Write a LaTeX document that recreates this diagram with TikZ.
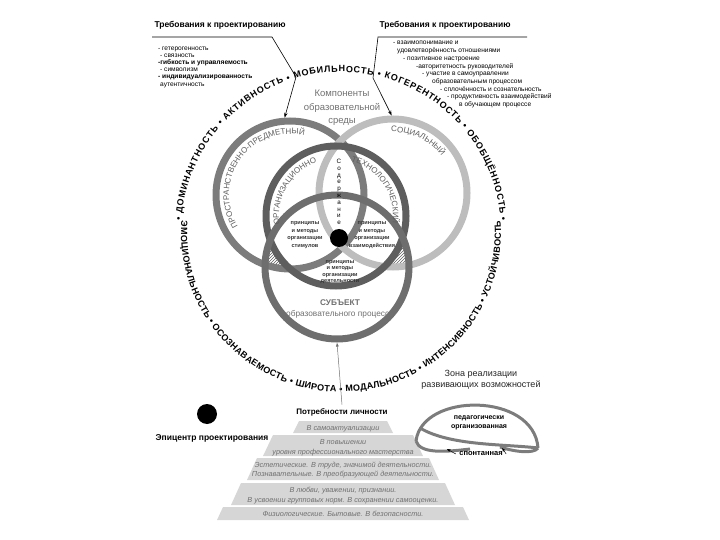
\documentclass[tikz,border=0pt]{standalone}
\usepackage{fontspec}
\setmainfont{Liberation Sans}
\usetikzlibrary{arrows.meta,positioning,decorations.text,patterns}

\definecolor{ringdark}{HTML}{5E5E5E}
\definecolor{ringmid}{HTML}{7C7C7C}
\definecolor{ringlight}{HTML}{BDBDBD}
\definecolor{txtgray}{HTML}{707070}
\definecolor{bandgray}{HTML}{D6D6D6}

\begin{document}
\begin{tikzpicture}[
  x=1pt, y=-1pt,
  ring/.style={circle, draw, line width=7pt, inner sep=0pt, outer sep=3.5pt},
  title/.style={font=\bfseries\fontsize{8.5}{10}\selectfont},
  small/.style={font=\fontsize{6.6}{7.5}\selectfont, inner sep=0pt, anchor=west},
  inner/.style={font=\bfseries\fontsize{5.6}{7.4}\selectfont, align=center, text=black!80, inner sep=0pt},
  need/.style={font=\itshape\fontsize{7.3}{10}\selectfont, text=txtgray, inner sep=0pt, anchor=base},
  pointer/.style={-{Stealth[length=5pt,width=3.5pt]}, line width=0.6pt},
  dome/.style={draw=ringmid, line width=3pt},
  fittext/.style={decorate, decoration={text along path, text align=fit to path, text={#1}}},
  ringtext/.style={decorate, decoration={text along path, text align=center, text color=ringdark,
    text={|\fontsize{8}{9}\selectfont|#1}}},
]
\useasboundingbox (0,0) rectangle (720,540);

% requirements
\node[title] (reqL) at (220,25) {Требования к проектированию};
\node[title] (reqR) at (445,25) {Требования к проектированию};
\foreach \x/\y/\t [count=\j] in {158/49/{- гетерогенность}, 160/56/{- связность},
    158/63/{\textbf{-гибкость и управляемость}}, 160/70/{- символизм},
    158/77/{\textbf{- индивидуализированность}}, 160/85/{аутентичность}}
  \node[small] (reqL\j) at (\x,\y) {\t};
\foreach \x/\y/\t [count=\j] in {393/43/{- взаимопонимание и}, 397/51/{удовлетворённость отношениями},
    403/59/{- позитивное настроение}, 416/67/{-авторитетность руководителей},
    422/74/{- участие в самоуправлении}, 432/82/{образовательным процессом},
    440/89/{- сплочённость и сознательность}, 447/97/{- продуктивность взаимодействий},
    459/105/{в обучающем процессе}}
  \node[small] (reqR\j) at (\x,\y) {\t};

% properties around
\path[fittext={|\bfseries\fontsize{9}{11}\selectfont|• ДОМИНАНТНОСТЬ • АКТИВНОСТЬ • МОБИЛЬНОСТЬ • КОГЕРЕНТНОСТЬ • ОБОБЩЁННОСТЬ •}]
  (341,232) ++(-176:160) arc[start angle=-176, end angle=-4, radius=160];
\path[fittext={|\bfseries\fontsize{9}{11}\selectfont|ЭМОЦИОНАЛЬНОСТЬ • ОСОЗНАВАЕМОСТЬ • ШИРОТА • МОДАЛЬНОСТЬ • ИНТЕНСИВНОСТЬ • УСТОЙЧИВОСТЬ}]
  (341,232) ++(-176:160) arc[start angle=-176, end angle=-364, radius=160];

% hatched corners
\begin{scope}
  \clip (290,195) circle[radius=75];
  \clip (337,267) circle[radius=73];
  \fill[pattern=north east lines, pattern color=ringdark, even odd rule]
    (200,150) rectangle (480,360) (336,216) circle[radius=69];
\end{scope}
\begin{scope}
  \clip (393,193) circle[radius=75];
  \clip (337,267) circle[radius=73];
  \fill[pattern=north east lines, pattern color=ringdark, even odd rule]
    (200,150) rectangle (480,360) (336,216) circle[radius=69];
\end{scope}

% components
\node[ring, draw=ringmid, minimum size=148] (spatial) at (290,195) {};
\node[ring, draw=ringlight, minimum size=148] (social) at (393,193) {};
\node[ring, draw=ringdark, minimum size=140] (orgtech) at (336,216) {};
\node[ring, draw=ringdark!90!white, minimum size=144] (subject) at (337,267) {};

\path[ringtext=ПРОСТРАНСТВЕННО-ПРЕДМЕТНЫЙ]
  (290,195) ++(-232:61) arc[start angle=-232, end angle=-56, radius=61];
\path[ringtext=СОЦИАЛЬНЫЙ]
  (393,193) ++(-105:61) arc[start angle=-105, end angle=-24, radius=61];
\path[ringtext=ОРГАНИЗАЦИОННО]
  (336,216) ++(-205:57) arc[start angle=-205, end angle=-93, radius=57];
\path[ringtext=ТЕХНОЛОГИЧЕСКИЙ]
  (336,216) ++(-88:57) arc[start angle=-88, end angle=21, radius=57];

\node[font=\fontsize{9.5}{13.5}\selectfont, text=txtgray, align=center] (comp) at (342,108)
  {Компоненты\\образовательной\\среды};
\node[font=\fontsize{6.3}{6.8}\selectfont, align=center, inner sep=0pt] (content) at (339,192)
  {С\\о\\д\\е\\р\\ж\\а\\н\\и\\е};
\node[circle, fill=black, minimum size=18, inner sep=0pt] (core) at (339,238) {};
\node[inner] (stim) at (305,235) {принципы\\и методы\\организации\\стимулов};
\node[inner] (inter) at (372,235) {принципы\\и методы\\организации\\взаимодействия};
\node[inner, font=\bfseries\fontsize{5.6}{6.2}\selectfont] (activ) at (340,272)
  {принципы\\и методы\\организации\\деятельности};
\node[font=\fontsize{8.3}{10.5}\selectfont, text=txtgray, align=center] (subjT) at (340,309)
  {\textbf{СУБЪЕКТ}\\образовательного процесса};

% epicentre
\node[circle, fill=black, minimum size=20, inner sep=0pt] (epic) at (207,414) {};
\node[title] (epicT) at (212,438) {Эпицентр проектирования};

% needs pyramid
\node[title, font=\bfseries\fontsize{8}{10}\selectfont] (needs) at (342,412) {Потребности личности};
\foreach \yt/\yb/\ht/\hb in {421/433/44/50, 435/456/70/80, 458/480/86/96, 483/505/102/112, 507/520/120/126}
  \fill[bandgray] (343-\ht,\yt) -- (343+\ht,\yt) -- (343+\hb,\yb) -- (343-\hb,\yb) -- cycle;
\foreach \y/\lbl [count=\i] in {430/{В самоактуализации}, 444/{В повышении},
    454/{уровня профессионального мастерства}, 467/{Эстетические. В труде, значимой деятельности.},
    476/{Познавательные. В преобразующей деятельности.}, 492/{В любви, уважении, признании.},
    502/{В усвоении групповых норм. В сохранении самооценки.}, 516/{Физиологические. Бытовые. В безопасности.}}
  \node[need] (need\i) at (343,\y) {\lbl};

% zone
\node[font=\fontsize{9}{11}\selectfont, align=center, text=black!85] (zone) at (481,380)
  {Зона реализации\\развивающих возможностей};
\draw[dome] (416,441) .. controls (422,392) and (534,392) .. (538,448);
\draw[dome] (420,428) .. controls (450,446) and (505,444) .. (538,448);
\draw[dome] (416,441) .. controls (420,454) and (445,452) .. (470,449);
\draw[dome] (500,447) .. controls (515,452) and (534,454) .. (538,448);
\node[font=\bfseries\fontsize{7}{8.5}\selectfont, align=center] (pedag) at (479,423)
  {педагогически\\организованная};
\node[font=\bfseries\fontsize{7.5}{9}\selectfont] (spont) at (481,454) {спонтанная};

% connectors
\coordinate (ruleL) at (152,37);
\coordinate (ruleR) at (527,37);
\draw[pointer] (ruleL) -- (272,37) -- (296,77) -- (spatial.94);
\draw[pointer] (ruleR) -- (378,37) -- (373,78) -- (social.91);
\draw[-{Latex[length=4pt,width=3pt]}, draw=txtgray, line width=0.5pt] (needs.north) -- (subject.south);
\draw[-{Stealth[length=4pt]}, line width=0.5pt] (spont.west) -- ++(-9,-5);
\draw[-{Stealth[length=4pt]}, line width=0.5pt] (spont.east) -- ++(-4,-6);
\end{tikzpicture}
\end{document}
